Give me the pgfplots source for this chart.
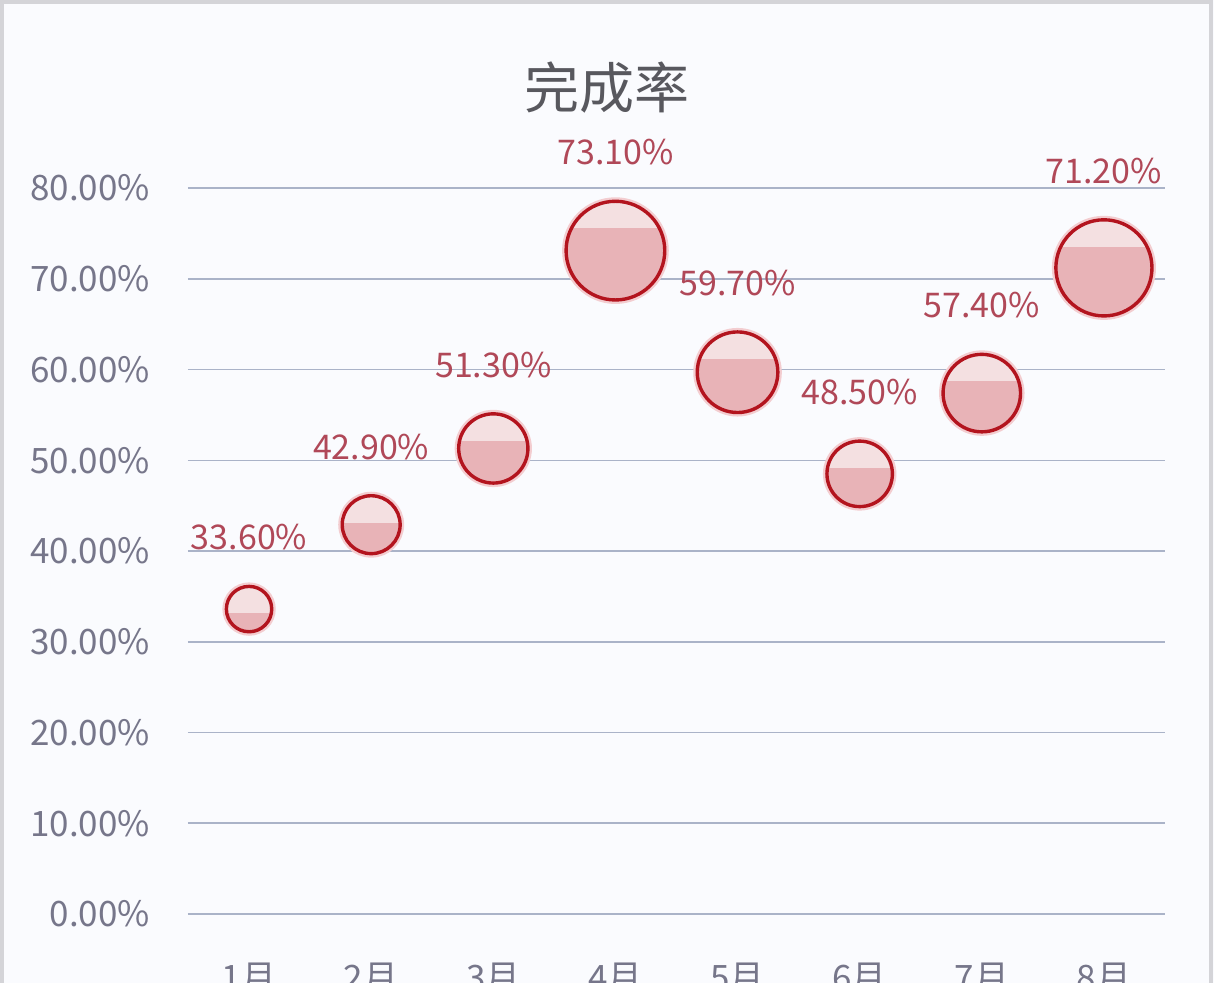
\documentclass[border=0pt]{standalone}
\usepackage{pgfplots}
\pgfplotsset{compat=1.18}
\usepackage{pgfplotstable}
\usepackage{fontspec}
\setmainfont{Noto Sans CJK SC}

\definecolor{bgc}{HTML}{FAFBFE}
\definecolor{bordc}{HTML}{D4D4D8}
\definecolor{gridc}{HTML}{AAB3C8}
\definecolor{tickc}{HTML}{76768A}
\definecolor{labc}{HTML}{B04858}
\definecolor{titlec}{HTML}{58585E}
\definecolor{bubfill}{HTML}{E8B3B7}
\definecolor{bubtop}{HTML}{F4E0E1}
\definecolor{bubedge}{HTML}{B3141E}
\definecolor{bubglow}{HTML}{F3CDD0}

% bubble: pink body, pale cap at the top, dark red ring
% radius comes from \rad (set per point by visualization depends on)
\newlength\bubr
\pgfdeclareplotmark{bubble}{%
  \pgfmathsetlength\bubr{\rad}%
  \pgfsetlinewidth{4pt}\pgfsetstrokecolor{bubglow}
  \pgfpathcircle{\pgfpointorigin}{\bubr}\pgfusepath{stroke}
  \pgfsetfillcolor{bubfill}
  \pgfpathcircle{\pgfpointorigin}{\bubr}\pgfusepath{fill}
  \begin{pgfscope}
    \pgfpathcircle{\pgfpointorigin}{\bubr}\pgfusepath{clip}
    \pgfsetfillcolor{bubtop}
    \pgfpathrectanglecorners{\pgfpoint{-\bubr}{\bubr-13.5pt}}{\pgfpoint{\bubr}{\bubr}}
    \pgfusepath{fill}
  \end{pgfscope}
  \pgfsetlinewidth{1.7pt}\pgfsetstrokecolor{bubedge}
  \pgfpathcircle{\pgfpointorigin}{\bubr}\pgfusepath{stroke}
}

\pgfplotstableread{
x v
1 33.6
2 42.9
3 51.3
4 73.1
5 59.7
6 48.5
7 57.4
8 71.2
}\datatable

\begin{document}
\begin{tikzpicture}
\useasboundingbox (-94pt,-34.5pt) rectangle (513pt,457pt);
\clip (-94pt,-34.5pt) rectangle (513pt,457pt);
\fill[bgc] (-94pt,-34.5pt) rectangle (513pt,457pt);
\draw[bordc, line width=2pt] (-93pt,-40pt) -- (-93pt,456pt) -- (511.5pt,456pt) -- (511.5pt,-40pt);

\begin{axis}[
  at={(0,0)}, anchor=south west,
  scale only axis,
  width=488.5pt, height=363pt,
  xmin=0.5, xmax=8.5, ymin=0, ymax=80,
  xtick={1,...,8},
  xticklabels={1月,2月,3月,4月,5月,6月,7月,8月},
  ytick={0,10,...,80},
  yticklabel={\pgfmathprintnumber[fixed,fixed zerofill,precision=2]{\tick}\%},
  ymajorgrids,
  grid style={gridc, line width=0.75pt},
  axis line style={draw=none},
  major tick length=0pt,
  tick label style={font=\fontsize{17.5}{20}\selectfont, text=tickc},
  yticklabel style={xshift=-15.5pt},
  xticklabel style={yshift=-21pt},
  clip=false,
  /pgf/number format/assume math mode=true,
]
\addplot[scatter, only marks, mark=bubble,
  visualization depends on={0.3375*\thisrow{v} \as \rad},
  nodes near coords={\pgfmathprintnumber[fixed,fixed zerofill,precision=2]{\pgfplotspointmeta}\%},
  every node near coord/.append style={anchor=center, yshift=\rad+24.5,
    font=\fontsize{17}{20}\selectfont, text=labc},
] table[x=x, y=v] {\datatable};
\end{axis}

\node[font=\fontsize{27.5}{30}\selectfont, text=titlec] at (209.5pt,413pt) {完成率};
\end{tikzpicture}
\end{document}
